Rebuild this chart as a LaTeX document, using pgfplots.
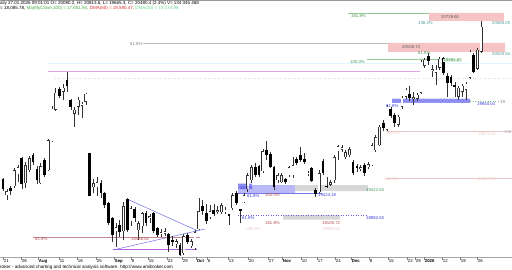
\documentclass[border=0pt]{standalone}
\usepackage{fontspec}
\setmainfont{Liberation Sans}
\usepackage{pgfplots}
\pgfplotsset{compat=1.18}
\usepackage{pgfplotstable}
\usetikzlibrary{patterns}

\definecolor{redbox}{RGB}{246,196,196}
\definecolor{boxtext}{RGB}{90,90,90}
\definecolor{grayline}{RGB}{185,185,185}
\definecolor{gtext}{RGB}{70,150,90}
\definecolor{ttext}{RGB}{80,150,150}
\definecolor{pinkline}{RGB}{225,165,225}
\definecolor{bband}{RGB}{150,150,240}
\definecolor{lband}{RGB}{185,185,248}
\definecolor{btext}{RGB}{60,60,220}
\definecolor{rtext}{RGB}{180,80,80}
\definecolor{mauve}{RGB}{200,135,145}
\definecolor{purp}{RGB}{180,100,220}
\definecolor{tri}{RGB}{110,110,230}
\definecolor{mgreen}{RGB}{60,170,60}
\definecolor{mred}{RGB}{220,40,40}
\definecolor{lgreen}{RGB}{100,215,140}
\definecolor{faint}{RGB}{235,200,200}
\definecolor{gband}{RGB}{215,215,215}
\definecolor{wick}{RGB}{50,50,50}

\newcommand\fs{\fontsize{4.3}{5}\selectfont}
\newcommand\lab[4]{\node[anchor=base west,inner sep=0pt,text=#3,font=\fs] at (axis cs:#1,#2) {#4};}
\newcommand\hl[4]{\addplot[#4,line width=0.5pt] coordinates {(#1,#3) (#2,#3)};}
\newcommand\band[5]{\addplot[draw=none,fill=#5] coordinates {(#1,#3) (#2,#3) (#2,#4) (#1,#4) (#1,#3)};}
\newcommand\dtick[2]{\draw[gray,line width=0.4pt] (axis cs:#1,257) -- (axis cs:#1,259.6);
  \node[anchor=base west,inner sep=0pt,font=\fs] at (axis cs:#1+0.7,262.6) {#2};}
\pgfplotsset{candle/.style={draw=none, mark=none, forget plot,
  error bars/.cd, y dir=plus, y explicit, error mark=none}}

% candles: i = bar index, bt/bb = body top/bottom, hi/lo = wick ends (chart units, downward)
\pgfplotstableread{
i bt bb hi lo
1 191 195 189 200
3 170 186 168 188
4 167 174 165 182
6 165 183 162 188
7 158 170 156 172
10 166 183 163 184
12 140 170 139 171
13 109 141 106 142
14 93 110 88 111
16 88 92 84 100
19 110 114 107 127
20 100 107 97 115
21 104 106 102 118
22 94 102 93 105
24 183 187 179 193
25 182 187 177 196
30 227 231 223 247
32 206 231 202 240
34 208 221 206 226
36 223 230 221 240
37 213 226 212 233
39 216 217.5 214 223
42 232 233.5 229 237
43 231 233.5 228 236
46 241 244 239 248
48 236 253 234 255
50 241 246 239 248
51 232 248 230 250
52 211 229 198 230
55 211 217 205 219
57 210 212 206 214
58 205 212 203 214
59 209.5 212 207 214
61 195 208 193 210
64 195 202 193 203
65 175 189 173 192
66 167 180 165 183
69 151 171 149 173
73 175 180 173 183
74 175 182 173 183
76 167 175 166 177
77 165 175 157 178
81 172.5 173.7 171 176
84 173 192 170 193
87 182 184.5 180 186
88 157 180 155 183
89 146 151 145 160
90 147 149.5 145 152
91 152 157 150 159
92 149 155 147 157
95 167 169 165 171
97 164 167 162 169
98 145 165 143 166
99 137 150 135 152
100 127 145 125 146
102 107 130 105 131
105 117 125 115 127
106 98 107 96 109
107 90 97 88 99
109 97.5 98.8 92 105
110 95 99 93 101
111 62 93 60 94
112 60 66 58 68
114 69.5 70.8 65 77
115 70 73 65 85
116 59 68 57 70
121 88 97 86 100
122 86 92 84 97
123 84 90 82 100
124 52 78 50 79
126 50 69 48 70
127 27 52 21 53
}\up
\pgfplotstableread{
i bt bb hi lo
0 179 189 178 191
2 188 191 186 195
5 158 184 157 189
8 155 162 153 165
9 169 180 166 184
11 160 175 158 177
15 89 96 87 98
17 80 86 72 92
18 100 107 99 110
23 153 196 153 196
26 183 193 180 198
27 193 205 192 208
28 203 223 202 225
29 218 235 217 242
31 225 232 220 237
33 199 230 198 232
35 209 218 207 222
38 213 223 211 226
40 213 231 212 233
41 228 235 227 237
44 234 245 233 252
45 240 242 236 246
47 245 255 243 256
49 235 242 233 244
53 206 211 200 215
54 213 221 204 224
56 210 213.5 204 216
60 214.3 215.5 214 225
62 193 203 191 205
63 209.4 210.5 209 223
67 167 175 163 177
68 166 175 165 177
70 150 155 141 160
71 154 167 152 168
72 167 187 166 190
75 179 182 178 184
78 159 163 157 165
79 155 160 147 162
80 159 162 153 164
82 168 181 167 182
83 190 194 188 197
85 161 173 159 175
86 185.5 187 177 188
93 162 173 160 175
94 166 168 164 172
96 165 173 163 176
101 123 128 120 131
103 109 116 107 118
104 115 123 113 127
108 94 98 86 101
113 56 61 53 65
117 58 73 57 75
118 76 83 73 97
119 77 83 75 86
120 85.4 86.6 82 97
125 55 72 53 73
}\down

\begin{document}
\begin{tikzpicture}
\begin{axis}[name=ax, scale only axis, width=512pt, height=270pt,
  xmin=0, xmax=512, ymin=0, ymax=270, y dir=reverse,
  axis lines=none, clip=false]

% window border
\addplot[gray!80, line width=1pt] coordinates {(0,0.5) (512,0.5)};

% faint background lines
\hl{48}{512}{63.5}{cyan!12}
\addplot[gray!25, line width=0.5pt, dotted] coordinates {(55,78.5) (512,78.5)};
\hl{386}{512}{131.5}{faint}
\hl{386}{512}{178}{faint}

% fib zones
\hl{348}{429}{13.5}{grayline!80!green}
\band{429}{504}{13}{21}{redbox}
\hl{143}{388}{43.7}{grayline}
\band{388}{505}{43}{52}{redbox}
\hl{367}{443}{59.3}{mgreen!55}
\hl{48}{422}{71.3}{pinkline}

\addplot[draw=none, fill=bband, postaction={pattern=crosshatch dots, pattern color=blue!60}] coordinates {(392,99) (470,99) (470,103) (392,103) (392,99)};
\addplot[mgreen!70, line width=0.5pt, dotted] coordinates {(470,101) (498,101)};

\band{238}{295}{185}{193}{lband}
\addplot[draw=none, fill=bband, postaction={pattern=crosshatch dots, pattern color=blue!60}] coordinates {(238,183.5) (252,183.5) (252,189) (238,189) (238,183.5)};
\band{295}{368}{185}{191}{gband}
\hl{238}{322}{193}{btext!70}
\band{283}{340}{215}{219.5}{gband}
\addplot[btext!80, line width=0.5pt, dotted] coordinates {(238,215.7) (366,215.7)};

\hl{33}{200}{237.5}{mauve}
\hl{113}{197}{249.5}{purp}
\addplot[tri, line width=0.5pt] coordinates {(127,199) (198,231)};
\addplot[tri, line width=0.5pt] coordinates {(113,250) (205,229)};

% candle wicks
\addplot[candle, error bar style={draw=wick, line width=0.5pt}]
  table[x expr=3+3.765*\thisrow{i}, y=hi, y error expr=\thisrow{lo}-\thisrow{hi}] {\up};
\addplot[candle, error bar style={draw=wick, line width=0.5pt}]
  table[x expr=3+3.765*\thisrow{i}, y=hi, y error expr=\thisrow{lo}-\thisrow{hi}] {\down};
% black bodies
\addplot[candle, error bar style={draw=black, line width=2.7pt}]
  table[x expr=3+3.765*\thisrow{i}, y=bt, y error expr=\thisrow{bb}-\thisrow{bt}] {\down};
% white bodies
\addplot[candle, error bar style={draw=wick, line width=2.7pt}]
  table[x expr=3+3.765*\thisrow{i}, y=bt, y error expr=\thisrow{bb}-\thisrow{bt}] {\up};
\addplot[candle, error bar style={draw=white, line width=1.7pt}]
  table[x expr=3+3.765*\thisrow{i}, y expr=\thisrow{bt}+0.5, y error expr={max(\thisrow{bb}-\thisrow{bt}-1.0,0.01)}] {\up};

% bottom axis
\addplot[gray!70, line width=0.5pt] coordinates {(0,257) (512,257)};
\dtick{3}{21}\dtick{21}{28}\dtick{38}{\textbf{Aug}}\dtick{59}{11}\dtick{77}{18}
\dtick{96}{25}\dtick{114}{\textbf{Sep}}\dtick{131}{8}\dtick{148}{15}\dtick{167}{22}
\dtick{182}{29}\dtick{196}{\textbf{Oct}}\dtick{207}{6}\dtick{228}{13}\dtick{248}{20}
\dtick{268}{27}\dtick{282}{\textbf{Nov}}\dtick{301}{10}\dtick{317}{17}\dtick{335}{24}
\dtick{351}{\textbf{Dec}}\dtick{369}{8}\dtick{388}{15}\dtick{407}{22}\dtick{415}{29}
\dtick{424}{\textbf{2026}}\dtick{442}{12}\dtick{460}{19}\dtick{477}{26}

% header
\node[anchor=base west,inner sep=0pt,font=\fontsize{4.5}{5}\selectfont] at (axis cs:0,4.3) {aily 27.01.2026 09:01:01 O= 20080.2, H= 20813.6, L= 19665.3, C= 20480.4 (2.4\%) V= 134 345 468};
\node[anchor=base west,inner sep=0pt,font=\fontsize{4.5}{5}\selectfont] at (axis cs:0,9.2) {= 18,085.78, \textcolor{mgreen}{Ma(MyClose,100) = 17,651.94,} \textcolor{mred}{DMA(50) = 19,590.47,} \textcolor{lgreen}{DMA(20) = 19,174.98}};

% labels
\lab{351}{18}{grayline!60!green!70!black}{161.8\%}
\lab{441}{18.3}{boxtext}{20729.60}
\lab{418}{25}{ttext}{138.2\%}
\lab{492}{25}{ttext}{20585.03}
\lab{130}{46}{gray}{61.8\%}
\lab{402}{49}{boxtext}{20158.73}
\lab{418}{55}{gtext}{61.8\%}
\lab{492}{55.5}{ttext}{20020.53}
\lab{350}{63.5}{gtext}{100.0\%}
\node[anchor=base west,inner sep=0.4pt,text=gtext,font=\fs,fill=mgreen!15] at (axis cs:443,62) {19982.87};
\lab{386}{107}{btext}{61.8\%}
\lab{477}{106}{btext}{19940.04}
\lab{500}{103}{gray}{19}
\lab{386}{135}{faint}{100.0\%}
\lab{478}{135.5}{faint}{19574.21}
\lab{504}{133}{gray!60}{100}
\lab{384}{180}{faint}{161.8\%}
\lab{478}{180}{faint}{19107.58}
\lab{240}{189.5}{btext}{38.2\%}
\lab{247}{197}{btext}{61.8\%}
\lab{265}{196}{rtext}{100.0\%}
\lab{318}{196}{btext}{19424.18}
\lab{366}{191}{gtext}{19422.53}
\lab{242}{219.5}{btext}{61.8\%}
\lab{366}{219}{btext}{18982.63}
\lab{265}{224.5}{rtext}{161.8\%}
\lab{322}{224.5}{rtext}{18185.72}
\lab{245}{230}{faint}{138.2\%}
\lab{322}{230}{faint}{18563.04}
\lab{35}{240.5}{rtext}{61.8\%}
\lab{131}{240.5}{rtext}{18458.62}

% footer
\node[anchor=base west,inner sep=0pt,font=\fontsize{4.6}{5}\selectfont] at (axis cs:0,268.3) {roker - advanced charting and technical analysis software. http://www.amibroker.com};
\end{axis}
\pgfresetboundingbox
\path[use as bounding box] (ax.south west) rectangle (ax.north east);
\end{tikzpicture}
\end{document}
